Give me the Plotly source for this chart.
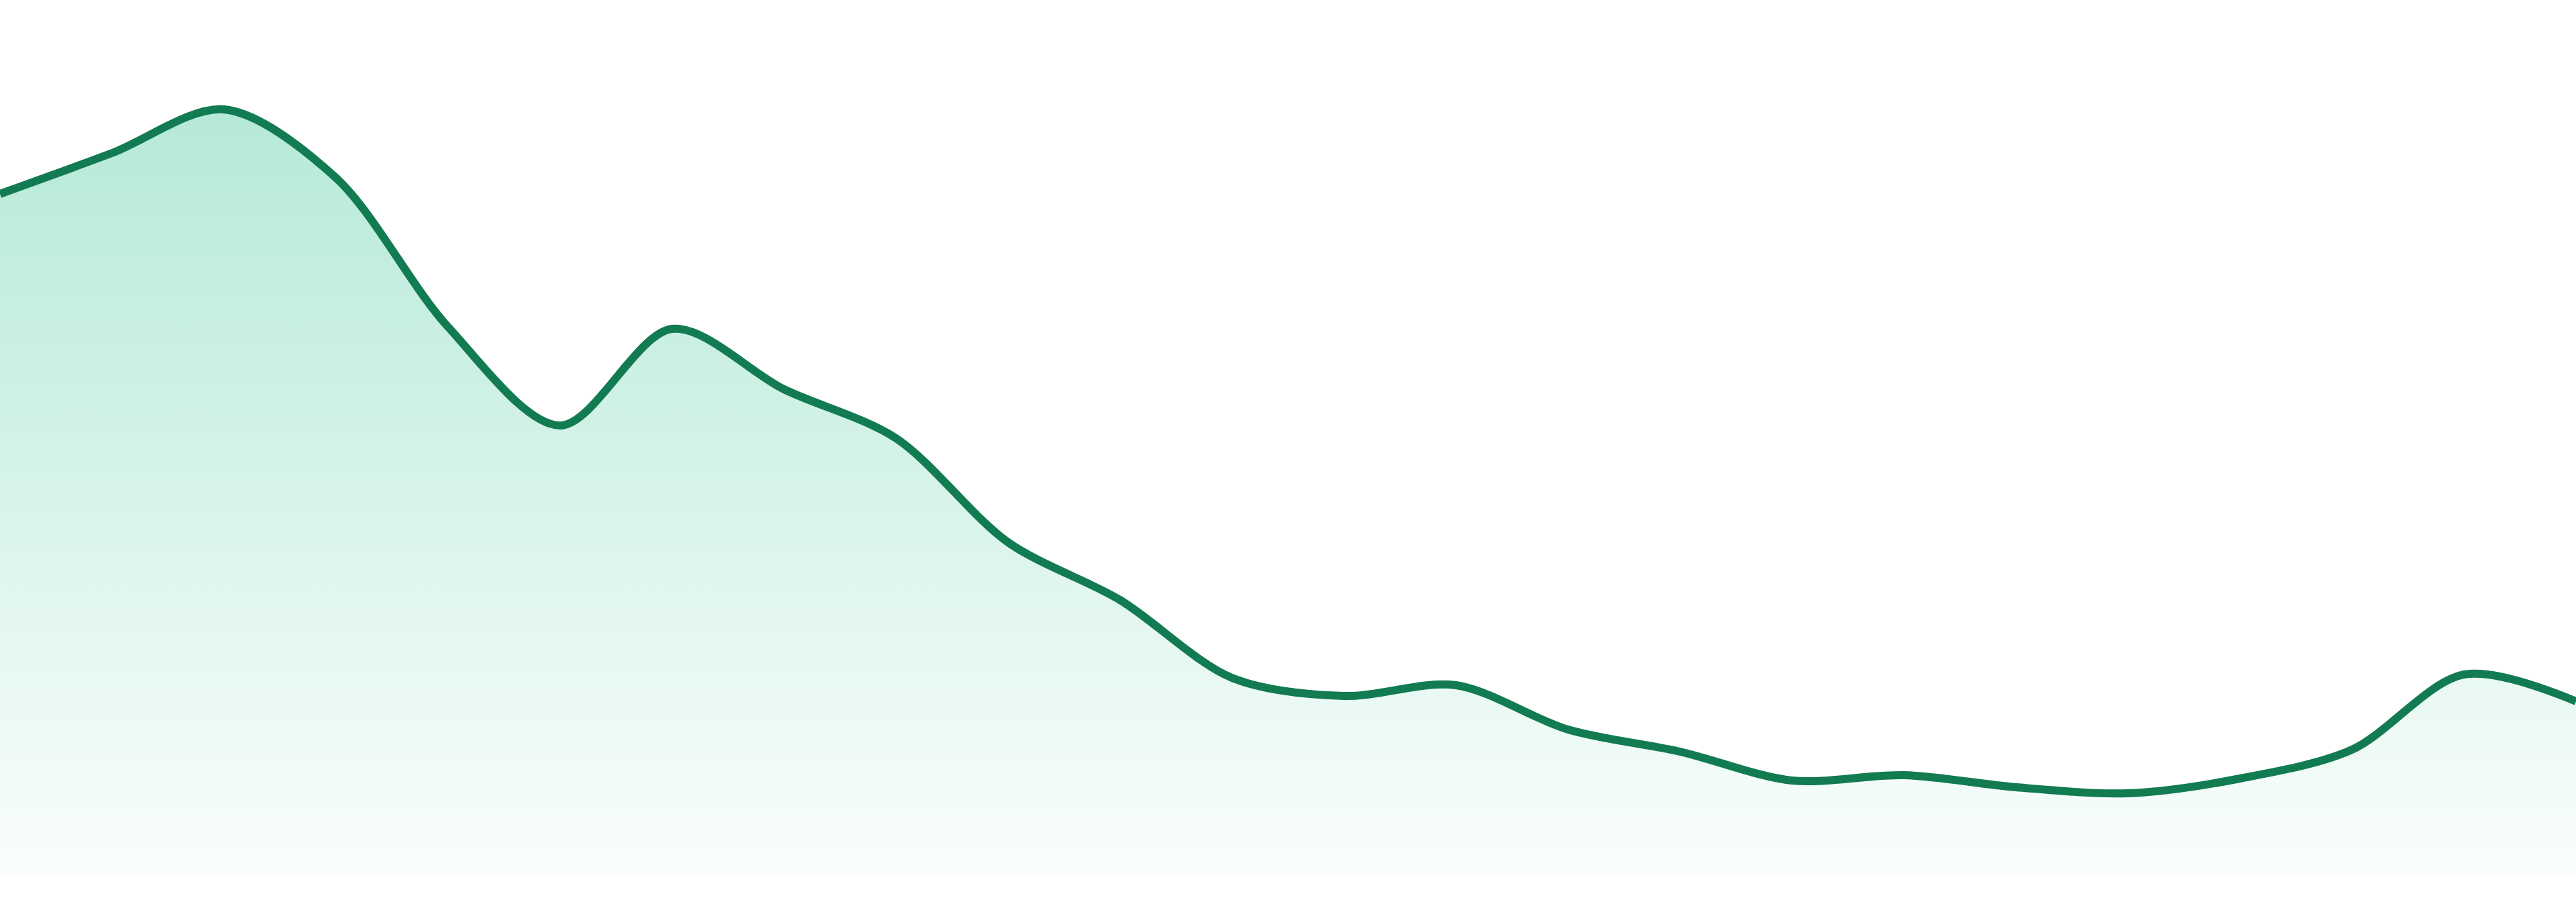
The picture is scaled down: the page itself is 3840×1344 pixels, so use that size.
import plotly.graph_objects as go

months = [
    "Jan 2023", "Feb 2023", "Mar 2023", "Apr 2023", "May 2023", "Jun 2023",
    "Jul 2023", "Aug 2023", "Sep 2023", "Oct 2023", "Nov 2023", "Dec 2023",
    "Jan 2024", "Feb 2024", "Mar 2024", "Apr 2024", "May 2024", "Jun 2024",
    "Jul 2024", "Aug 2024", "Sep 2024", "Oct 2024", "Nov 2024", "Dec 2024",
]
values = [
    1015, 1076, 1141, 1039, 817, 670, 814, 724, 651, 496, 410, 294,
    267, 283, 217, 184, 141, 149, 131, 122, 144, 187, 299, 259,
]

y_max = 1304

# --- Area line with vertical gradient fill ---
fig = go.Figure()
fig.add_trace(go.Scatter(
    x=months, y=values,
    mode="lines",
    line=dict(color="#127b52", width=12, shape="spline", smoothing=0.9),
    fill="tozeroy",
    fillgradient=dict(
        type="vertical",
        start=0, stop=max(values),
        colorscale=[[0, "rgba(16,185,129,0.02)"], [1, "rgba(16,185,129,0.31)"]],
    ),
    hoverinfo="skip",
))

fig.update_layout(
    width=3840, height=1344,
    margin=dict(l=0, r=0, t=0, b=40),
    paper_bgcolor="white", plot_bgcolor="white",
    showlegend=False,
    xaxis=dict(visible=False, range=[0, len(months) - 1], fixedrange=True),
    yaxis=dict(visible=False, range=[0, y_max], fixedrange=True),
)

# drop the default body margin so the chart sits flush with the window
fig.write_html("out.html", config={"displayModeBar": False},
               post_script="document.body.style.margin='0';")
